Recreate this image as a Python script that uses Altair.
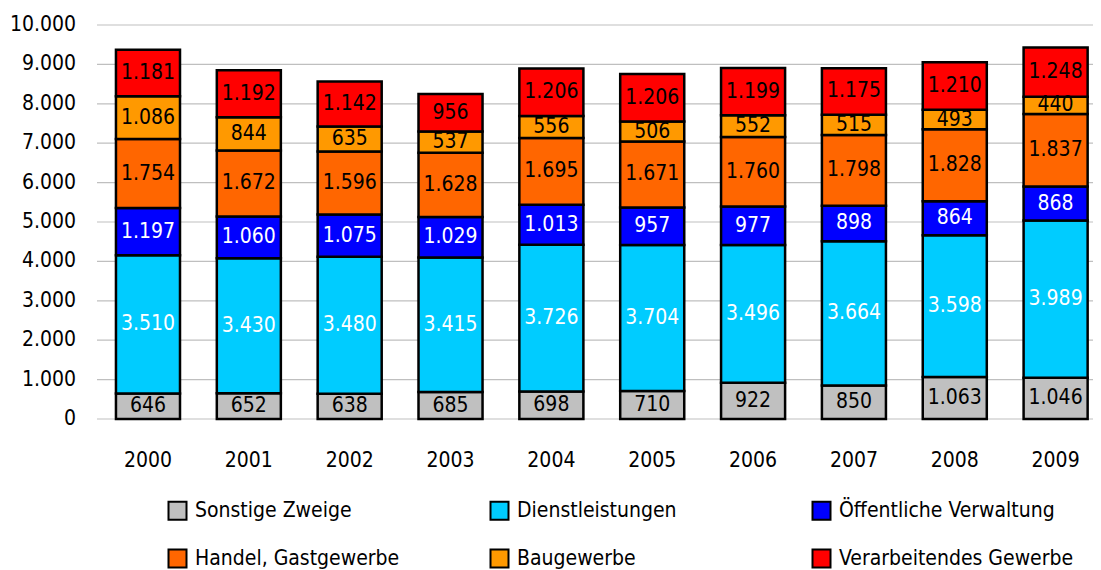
import altair as alt
import pandas as pd

years = ["2000", "2001", "2002", "2003", "2004", "2005", "2006", "2007", "2008", "2009"]
series = ["Sonstige Zweige", "Dienstleistungen", "Öffentliche Verwaltung",
          "Handel, Gastgewerbe", "Baugewerbe", "Verarbeitendes Gewerbe"]
sonstige = [646, 652, 638, 685, 698, 710, 922, 850, 1063, 1046]
dienst = [3510, 3430, 3480, 3415, 3726, 3704, 3496, 3664, 3598, 3989]
oeff = [1197, 1060, 1075, 1029, 1013, 957, 977, 898, 864, 868]
handel = [1754, 1672, 1596, 1628, 1695, 1671, 1760, 1798, 1828, 1837]
bau = [1086, 844, 635, 537, 556, 506, 552, 515, 493, 440]
verarb = [1181, 1192, 1142, 956, 1206, 1206, 1199, 1175, 1210, 1248]
values = [sonstige, dienst, oeff, handel, bau, verarb]
y_ticks = [0, 1000, 2000, 3000, 4000, 5000, 6000, 7000, 8000, 9000, 10000]
y_tick_labels = ["0", "1.000", "2.000", "3.000", "4.000", "5.000",
                 "6.000", "7.000", "8.000", "9.000", "10.000"]

colors = ["#C0C0C0", "#00CCFF", "#0000FF", "#FF6600", "#FF9900", "#FF0000"]
label_colors = ["black", "white", "white", "black", "black", "black"]

rows = []
for si, (name, vals) in enumerate(zip(series, values)):
    for yr, v in zip(years, vals):
        rows.append(dict(year=yr, series=name, value=v, order=si,
                         label=f"{v:,}".replace(",", "."), lc=label_colors[si]))
df = pd.DataFrame(rows)
ticks_df = pd.DataFrame({"v": y_ticks, "lab": y_tick_labels})

FONT = "DejaVu Sans Condensed, Liberation Sans Narrow, Liberation Sans, sans-serif"
FS = 21

yscale = alt.Scale(domain=[0, 10000], nice=False, zero=True)

# y gridlines and tick labels
grid = alt.Chart(ticks_df).mark_rule(color="#BFBFBF", strokeWidth=1.2).encode(
    y=alt.Y("v:Q", scale=yscale, axis=None),
    x=alt.value(0), x2=alt.value(996),
)
ylabels = alt.Chart(ticks_df).mark_text(
    align="right", baseline="middle", fontSize=FS, font=FONT, color="black"
).encode(
    y=alt.Y("v:Q", scale=yscale, axis=None),
    x=alt.value(-21),
    text="lab:N",
)

base = alt.Chart(df).transform_stack(
    stack="value", groupby=["year"],
    sort=[alt.SortField("order", order="ascending")],
    as_=["y0", "y1"]
).transform_calculate(mid="(datum.y0 + datum.y1) / 2")

xenc = alt.X("year:N", title=None, sort=years,
             scale=alt.Scale(range=[0, 1009.6], paddingInner=0.365, paddingOuter=0.188),
             axis=alt.Axis(labelAngle=0, labelFontSize=FS, labelPadding=30, ticks=False,
                           domain=False, grid=False, labelFont=FONT, labelColor="black"))

bars = base.mark_bar(stroke="black", strokeWidth=2.5).encode(
    x=xenc,
    y=alt.Y("y0:Q", scale=yscale, title=None, axis=None),
    y2="y1:Q",
    color=alt.Color("series:N", sort=series,
                    scale=alt.Scale(domain=series, range=colors),
                    legend=alt.Legend(orient="none", legendX=70, legendY=475,
                                      columns=3, direction="horizontal",
                                      symbolType="square", symbolSize=324,
                                      symbolStrokeColor="black", symbolStrokeWidth=2,
                                      symbolOpacity=1,
                                      labelFontSize=FS, labelFont=FONT, labelColor="black",
                                      labelOffset=7, columnPadding=56, rowPadding=21,
                                      gridAlign="all", title=None, labelLimit=400)),
)

texts = base.mark_text(fontSize=FS, font=FONT, baseline="middle").encode(
    x=xenc,
    y=alt.Y("mid:Q", scale=yscale, axis=None),
    text="label:N",
    color=alt.Color("lc:N", scale=None, legend=None),
)

chart = alt.layer(grid, ylabels, bars, texts).properties(
    width=996, height=394,
    autosize=alt.AutoSizeParams(type="none"),
    padding={"left": 89, "top": 17, "right": 0, "bottom": 151},
).configure_view(stroke=None)

chart.save("out.html", embed_options={"renderer": "svg", "actions": False})
